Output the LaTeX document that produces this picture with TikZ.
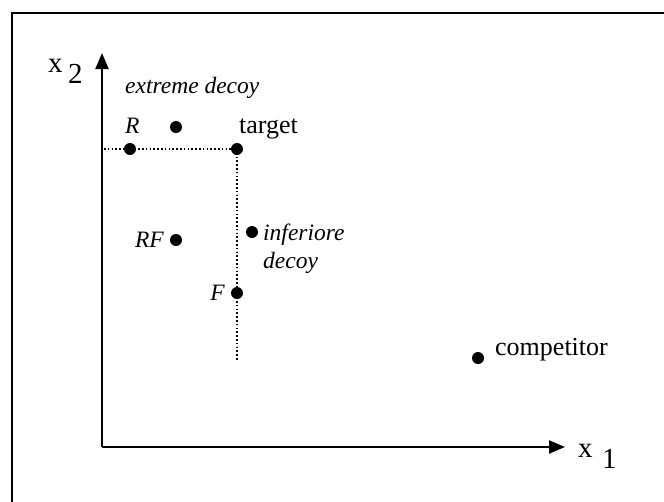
\documentclass[tikz,border=0pt]{standalone}
\usepackage{fontspec}
\setmainfont{Liberation Serif}
\usetikzlibrary{arrows.meta}
\begin{document}
\begin{tikzpicture}[x=1pt,y=-1pt,
  dotpt/.style={circle,fill=black,inner sep=0pt,minimum size=12pt},
  rlab/.style={inner sep=0pt,font=\fontsize{26}{31}\selectfont},
  axlab/.style={inner sep=0pt,font=\fontsize{29}{34}\selectfont},
  ilab/.style={inner sep=0pt,font=\fontsize{23.5}{28}\selectfont\itshape},
  axisline/.style={line width=2.2pt,-{Triangle[length=16pt,width=13pt]}},
  guide/.style={line width=1.6pt,dash pattern=on 1.6pt off 2.2pt}]
\useasboundingbox (0,0) rectangle (664,501);
\clip (0,0) rectangle (664,501);
% frame
\draw[line width=2pt] (12,13) rectangle (690,530);
% axes
\coordinate (O) at (102,447);
\coordinate (ytip) at (102,53);
\coordinate (xtip) at (565,447);
\draw[axisline] (O) -- (ytip);
\draw[axisline] (O) -- (xtip);
\node[axlab,anchor=base west] (x2a) at (48,72) {x};
\node[axlab,anchor=base west] (x2b) at (68,83) {2};
\node[axlab,anchor=base west] (x1a) at (578,457) {x};
\node[axlab,anchor=base west] (x1b) at (602,468) {1};
% guides
\coordinate (hstart) at (104,149);
\coordinate (vend) at (237,360);
\coordinate (tg) at (237,149);
\draw[guide] (hstart) -- (tg);
\draw[guide] (tg) -- (vend);
% points
\node[dotpt] (ext) at (176,127) {};
\node[dotpt] (R) at (130,149) {};
\node[dotpt] (T) at (tg) {};
\node[dotpt] (RF) at (176,240) {};
\node[dotpt] (inf) at (252,232) {};
\node[dotpt] (F) at (237,293) {};
\node[dotpt] (comp) at (478,358) {};
% labels
\node[ilab,anchor=base west] (extlab) at (125,93) {extreme decoy};
\node[ilab,anchor=base west] (Rlab) at (125,133) {R};
\node[rlab,anchor=base west] (Tlab) at (239,133) {target};
\node[ilab,anchor=base east] (RFlab) at (164,247) {RF};
\node[ilab,anchor=base east] (Flab) at (225,300) {F};
\node[ilab,anchor=base west] (infa) at (263,240) {inferiore};
\node[ilab,anchor=base west] (infb) at (263,268) {decoy};
\node[rlab,anchor=base west] (complab) at (495,355) {competitor};
\end{tikzpicture}
\end{document}
